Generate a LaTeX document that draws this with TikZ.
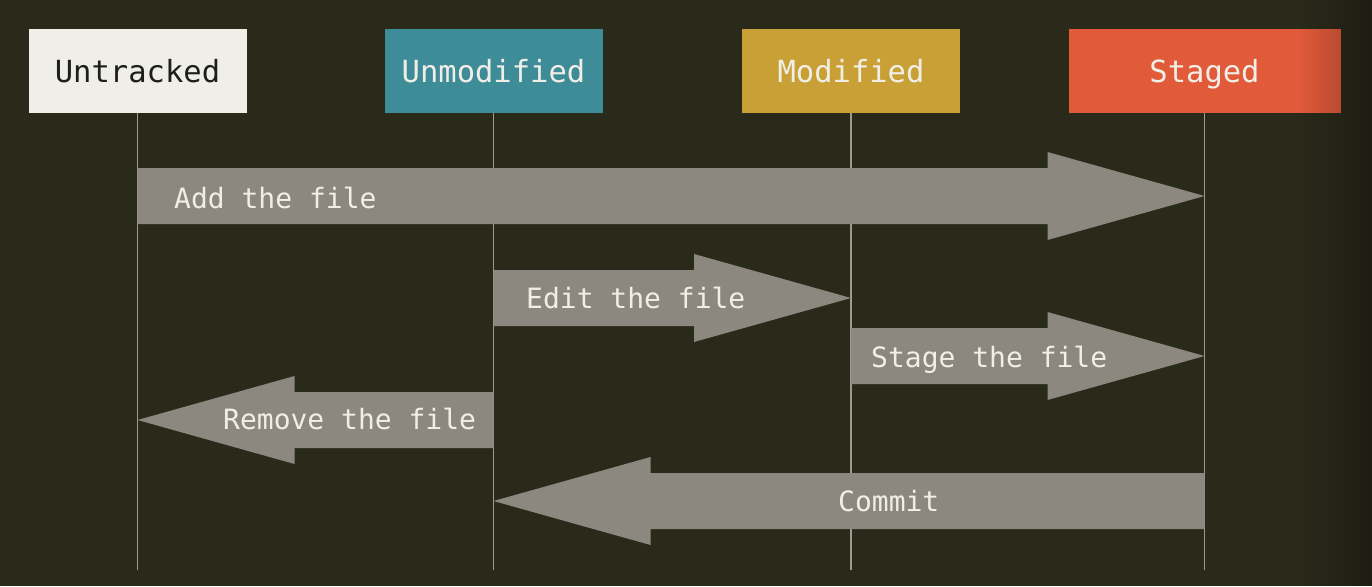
\documentclass[tikz,border=0pt]{standalone}
\usepackage{fontspec}
\newfontfamily\statefont{DejaVu Sans Mono}
\usetikzlibrary{calc,fadings}

\definecolor{bg}{RGB}{42,42,27}
\definecolor{flowgray}{RGB}{140,136,128}
\definecolor{lifegray}{RGB}{158,154,146}
\definecolor{paper}{RGB}{240,239,231}
\definecolor{ink}{RGB}{30,30,28}
\definecolor{lighttext}{RGB}{240,238,230}
\definecolor{teal}{RGB}{61,140,151}
\definecolor{mustard}{RGB}{201,160,53}
\definecolor{tomato}{RGB}{225,90,58}

\tikzfading[name=edgefade, left color=transparent!100, right color=transparent!0]

% fat block arrow between two lifelines:
% #1 tail state, #2 head state, #3 centre y, #4 direction (1 rightwards, -1 leftwards)
\newcommand\fatarrow[4]{%
  \fill[flow] ($(#1 |- 0,#3)+(0,-28)$)
    -- ($(#2 |- 0,#3)+({-157*(#4)},-28)$)
    -- ($(#2 |- 0,#3)+({-157*(#4)},-44)$)
    -- (#2 |- 0,#3)
    -- ($(#2 |- 0,#3)+({-157*(#4)},44)$)
    -- ($(#2 |- 0,#3)+({-157*(#4)},28)$)
    -- ($(#1 |- 0,#3)+(0,28)$) -- cycle;}

\begin{document}
\begin{tikzpicture}[x=1pt,y=-1pt,
  state/.style={minimum width=218pt, minimum height=84pt, inner sep=0pt,
    text height=23pt, text depth=0pt,
    font=\statefont\fontsize{30.5}{31}\selectfont},
  life/.style={draw=lifegray, line width=1.6pt},
  flow/.style={fill=flowgray},
  lbl/.style={inner sep=0pt, text=lighttext,
    font=\statefont\fontsize{28}{29}\selectfont}]

\useasboundingbox (0,0) rectangle (1372,586);
\fill[bg] (0,0) rectangle (1372,586);

% states
\node[state, fill=paper, text=ink] (ut) at (137.5,71) {Untracked};
\node[state, fill=teal, text=lighttext] (um) at (493.5,71) {Unmodified};
\node[state, fill=mustard, text=lighttext] (md) at (851,71) {Modified};
\node[state, fill=tomato, text=lighttext, minimum width=272pt] (st) at (1204.5,71) {Staged};

% lifelines
\coordinate (utend) at (ut.south |- 0,570);
\coordinate (umend) at (um.south |- 0,570);
\coordinate (mdend) at (md.south |- 0,570);
\coordinate (stend) at (st.south |- 0,570);
\draw[life] (ut.south) -- (utend);
\draw[life] (um.south) -- (umend);
\draw[life] (md.south) -- (mdend);
\draw[life] (st.south) -- (stend);

% transitions
\fatarrow{ut}{st}{196}{1}
\fatarrow{um}{md}{298}{1}
\fatarrow{md}{st}{356}{1}
\fatarrow{um}{ut}{420}{-1}
\fatarrow{st}{um}{501}{-1}

\node[lbl, anchor=base west] (addlbl) at (174,208) {Add the file};
\node[lbl, anchor=base west] (editlbl) at (526,308) {Edit the file};
\node[lbl, anchor=base west] (stagelbl) at (871,367) {Stage the file};
\node[lbl, anchor=base west] (removelbl) at (223,429) {Remove the file};
\node[lbl, anchor=base west] (commitlbl) at (838,511) {Commit};

% darkened right edge
\fill[black, opacity=0.3, path fading=edgefade] (1300,0) rectangle (1372,586);
\end{tikzpicture}
\end{document}
